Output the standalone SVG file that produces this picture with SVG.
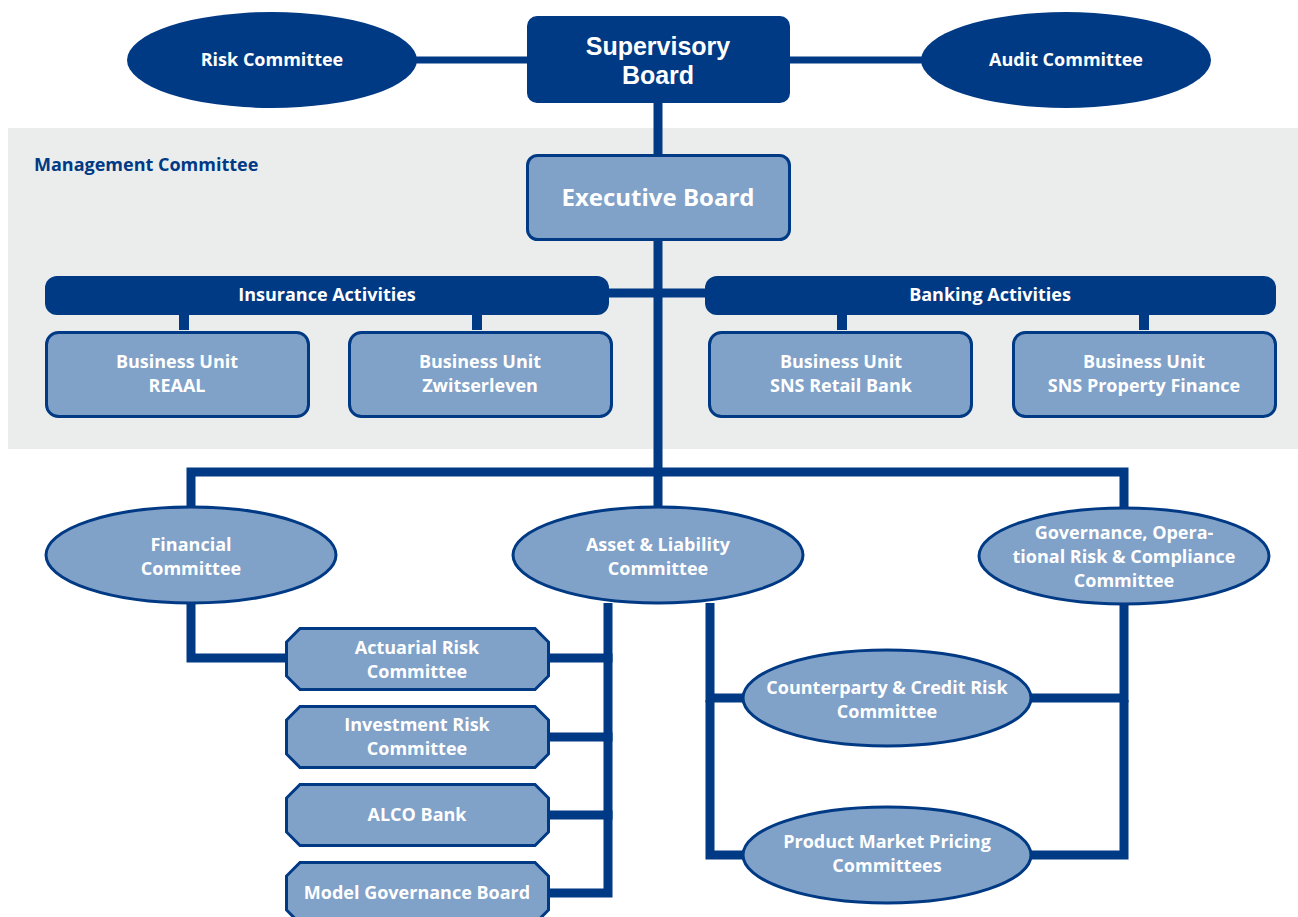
<svg xmlns="http://www.w3.org/2000/svg" width="1298" height="917" viewBox="0 0 1298 917">
<style>
.dk{fill:#003984;}
.lt{fill:#80a1c8;stroke:#003984;stroke-width:3;}
.t{font-family:"Open Sans","Liberation Sans",sans-serif;font-weight:700;fill:#ffffff;text-anchor:middle;font-size:18px;}
.big{font-size:24px;}
.sb{font-family:"Liberation Sans",Arial,sans-serif;font-size:25px;}
.ln{stroke:#003984;stroke-width:9;fill:none;stroke-linecap:square;stroke-linejoin:miter;}
</style>
<rect x="0" y="0" width="1298" height="917" fill="#ffffff"/>
<rect id="management" x="8" y="128" width="1290" height="321" fill="#ebeded"/>
<text x="34" y="171" style="font-family:'Open Sans','Liberation Sans',sans-serif;font-weight:700;font-size:18px;fill:#003984;">Management Committee</text>
<g id="connectors">
<line class="ln" x1="417" y1="60" x2="527" y2="60" style="stroke-width:7"/>
<line class="ln" x1="790" y1="60" x2="921" y2="60" style="stroke-width:7"/>
<line class="ln" x1="658" y1="103" x2="658" y2="155"/>
<line class="ln" x1="658" y1="240" x2="658" y2="508"/>
<line class="ln" x1="609" y1="293" x2="705" y2="293"/>
<line class="ln" x1="184" y1="315" x2="184" y2="330" style="stroke-linecap:butt;stroke-width:10"/>
<line class="ln" x1="477" y1="315" x2="477" y2="330" style="stroke-linecap:butt;stroke-width:10"/>
<line class="ln" x1="842" y1="315" x2="842" y2="330" style="stroke-linecap:butt;stroke-width:10"/>
<line class="ln" x1="1144" y1="315" x2="1144" y2="330" style="stroke-linecap:butt;stroke-width:10"/>
<polyline class="ln" points="191,508 191,472 1124,472 1124,508"/>
<polyline class="ln" points="191,603 191,658 286,658" style="stroke-linecap:butt"/>
<polyline class="ln" points="608,603 608,893 549,893" style="stroke-linecap:butt"/>
<line class="ln" x1="549" y1="658" x2="608" y2="658"/>
<line class="ln" x1="549" y1="737" x2="608" y2="737"/>
<line class="ln" x1="549" y1="815" x2="608" y2="815"/>
<polyline class="ln" points="744,698 710,698 710,603" style="stroke-linecap:butt"/>
<polyline class="ln" points="744,855 710,855 710,700" style="stroke-linecap:butt"/>
<polyline class="ln" points="1030,698 1124,698 1124,603" style="stroke-linecap:butt"/>
<polyline class="ln" points="1030,855 1124,855 1124,700" style="stroke-linecap:butt"/>
</g>
<g id="risk-committee">
<ellipse class="dk" cx="272" cy="60" rx="145" ry="48"/>
<text class="t" x="272" y="66">Risk Committee</text>
</g>
<g id="audit-committee">
<ellipse class="dk" cx="1066" cy="60" rx="145" ry="48"/>
<text class="t" x="1066" y="66">Audit Committee</text>
</g>
<g id="supervisory-board">
<rect class="dk" x="527" y="16" width="263" height="87" rx="10"/>
<text class="t sb"><tspan x="658" y="55">Supervisory</tspan><tspan x="658" y="84">Board</tspan></text>
</g>
<g id="executive-board">
<rect class="lt" x="527.5" y="155.5" width="262" height="84" rx="10"/>
<text class="t big" x="658" y="206">Executive Board</text>
</g>
<g id="insurance-activities">
<rect class="dk" x="45" y="276" width="564" height="39" rx="12"/>
<text class="t" x="327" y="301">Insurance Activities</text>
</g>
<g id="banking-activities">
<rect class="dk" x="705" y="276" width="571" height="39" rx="12"/>
<text class="t" x="990" y="301">Banking Activities</text>
</g>
<g id="bu-reaal">
<rect class="lt" x="46.5" y="332.5" width="262" height="84" rx="12"/>
<text class="t"><tspan x="177" y="368">Business Unit</tspan><tspan x="177" y="392">REAAL</tspan></text>
</g>
<g id="bu-zwitserleven">
<rect class="lt" x="349.5" y="332.5" width="262" height="84" rx="12"/>
<text class="t"><tspan x="480" y="368">Business Unit</tspan><tspan x="480" y="392">Zwitserleven</tspan></text>
</g>
<g id="bu-sns-retail">
<rect class="lt" x="709.5" y="332.5" width="262" height="84" rx="12"/>
<text class="t"><tspan x="841" y="368">Business Unit</tspan><tspan x="841" y="392">SNS Retail Bank</tspan></text>
</g>
<g id="bu-sns-property">
<rect class="lt" x="1013.5" y="332.5" width="262" height="84" rx="12"/>
<text class="t"><tspan x="1144" y="368">Business Unit</tspan><tspan x="1144" y="392">SNS Property Finance</tspan></text>
</g>
<g id="financial-committee">
<ellipse class="lt" cx="191" cy="555" rx="145" ry="48"/>
<text class="t"><tspan x="191" y="551">Financial</tspan><tspan x="191" y="575">Committee</tspan></text>
</g>
<g id="alm-committee">
<ellipse class="lt" cx="658" cy="555" rx="145" ry="48"/>
<text class="t"><tspan x="658" y="551">Asset &amp; Liability</tspan><tspan x="658" y="575">Committee</tspan></text>
</g>
<g id="governance-committee">
<ellipse class="lt" cx="1124" cy="556" rx="145" ry="48"/>
<text class="t"><tspan x="1124" y="539">Governance, Opera-</tspan><tspan x="1124" y="563">tional Risk &amp; Compliance</tspan><tspan x="1124" y="587">Committee</tspan></text>
</g>
<g id="actuarial-risk">
<polygon class="lt" points="300,628.5 535,628.5 548.5,642 548.5,676 535,689.5 300,689.5 286.5,676 286.5,642"/>
<text class="t"><tspan x="417" y="654">Actuarial Risk</tspan><tspan x="417" y="678">Committee</tspan></text>
</g>
<g id="investment-risk">
<polygon class="lt" points="300,706.5 535,706.5 548.5,720 548.5,754 535,767.5 300,767.5 286.5,754 286.5,720"/>
<text class="t"><tspan x="417" y="731">Investment Risk</tspan><tspan x="417" y="755">Committee</tspan></text>
</g>
<g id="alco-bank">
<polygon class="lt" points="300,784.5 535,784.5 548.5,798 548.5,832 535,845.5 300,845.5 286.5,832 286.5,798"/>
<text class="t" x="417" y="821">ALCO Bank</text>
</g>
<g id="model-governance">
<polygon class="lt" points="300,862.5 535,862.5 548.5,876 548.5,910 535,923.5 300,923.5 286.5,910 286.5,876"/>
<text class="t" x="417" y="899">Model Governance Board</text>
</g>
<g id="counterparty-credit">
<ellipse class="lt" cx="887" cy="698" rx="144" ry="48"/>
<text class="t"><tspan x="887" y="694">Counterparty &amp; Credit Risk</tspan><tspan x="887" y="718">Committee</tspan></text>
</g>
<g id="product-market-pricing">
<ellipse class="lt" cx="887" cy="855" rx="144" ry="48"/>
<text class="t"><tspan x="887" y="848">Product Market Pricing</tspan><tspan x="887" y="872">Committees</tspan></text>
</g>
</svg>
